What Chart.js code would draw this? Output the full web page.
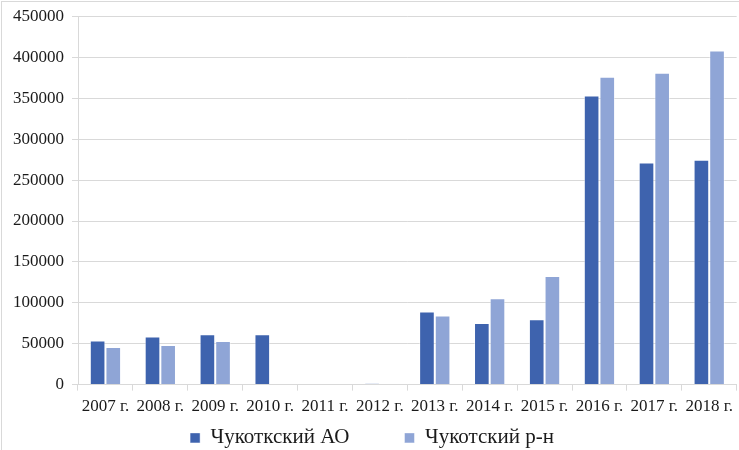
<!DOCTYPE html>
<html>
<head>
<meta charset="utf-8">
<script src="https://cdn.jsdelivr.net/npm/chart.js@4.4.1/dist/chart.umd.min.js"></script>
<style>
    html, body { margin: 0; padding: 0; background: #ffffff; }
    #wrap { position: relative; width: 739px; height: 450px; }
    #frame {
        position: absolute;
        left: 1px; top: 1px; right: 0; bottom: 0;
        border-top: 1px solid #d9d9d9;
        border-left: 1px solid #d9d9d9;
        pointer-events: none;
    }
</style>
</head>
<body>
<div id="wrap"><canvas id="chart"></canvas><div id="frame"></div></div>
<script>
// Years on the x axis
const years = ['2007 г.', '2008 г.', '2009 г.', '2010 г.', '2011 г.', '2012 г.',
    '2013 г.', '2014 г.', '2015 г.', '2016 г.', '2017 г.', '2018 г.'];

// Series values
const chukotkaAO = [54000, 58700, 61500, 61500, 0, 1200, 89300, 75400, 79900, 353400, 271500, 274800];
const chukotskyDistrict = [46000, 48500, 53400, 0, 0, 0, 84400, 105500, 132900, 376200, 381100, 408400];

const yMax = 450000;
const yStep = 50000;

const serif = '"Liberation Serif", "Times New Roman", serif';
const legendFontSize = 21;
const legendGap = 55;

// the legend items are far apart in the picture, but the padding also pushes the row down,
// so move the legend box back up after layout
const legendNudge = {
    id: 'legendNudge',
    afterLayout(chart) {
        const lg = chart.legend;
        const rowCenter = 440;
        const top = rowCenter - legendFontSize * 0.6 - legendGap;
        const h = lg.bottom - lg.top;
        lg.top = top;
        lg.bottom = top + h;
    }
};

const ctx = document.getElementById('chart').getContext('2d');
new Chart(ctx, {
    type: 'bar',
    data: {
        labels: years,
        datasets: [{
            label: 'Чукоткский АО',
            data: chukotkaAO,
            backgroundColor: '#3e63ae',
            borderColor: 'rgba(255,255,255,0.45)',
            borderWidth: 1
        }, {
            label: 'Чукотский р-н',
            data: chukotskyDistrict,
            backgroundColor: '#8fa5d6',
            borderColor: 'rgba(255,255,255,0.45)',
            borderWidth: 1
        }]
    },
    plugins: [legendNudge],
    options: {
        responsive: true,
        maintainAspectRatio: false,
        animation: false,
        layout: {
            padding: { top: 0, right: 0, left: 5, bottom: -59 }
        },
        datasets: {
            bar: {
                categoryPercentage: 0.57,
                barPercentage: 1.0
            }
        },
        plugins: {
            tooltip: { enabled: false },
            legend: {
                position: 'bottom',
                labels: {
                    color: '#1a1a1a',
                    font: { family: serif, size: legendFontSize },
                    boxWidth: 10,
                    boxHeight: 10,
                    padding: legendGap
                }
            }
        },
        scales: {
            x: {
                grid: {
                    display: true,
                    drawOnChartArea: false,
                    drawTicks: true,
                    tickLength: 6,
                    color: '#d9d9d9'
                },
                border: { color: '#d9d9d9' },
                ticks: {
                    color: '#1a1a1a',
                    font: { family: serif, size: 17 },
                    maxRotation: 0,
                    autoSkip: false,
                    padding: 6
                }
            },
            y: {
                min: 0,
                max: yMax,
                grid: {
                    color: '#d9d9d9',
                    tickLength: 6
                },
                border: { color: '#d9d9d9' },
                ticks: {
                    stepSize: yStep,
                    color: '#1a1a1a',
                    font: { family: serif, size: 17, lineHeight: 1.0 },
                    padding: 8,
                    callback: function(value) { return String(value); }
                }
            }
        }
    }
});
</script>
</body>
</html>
